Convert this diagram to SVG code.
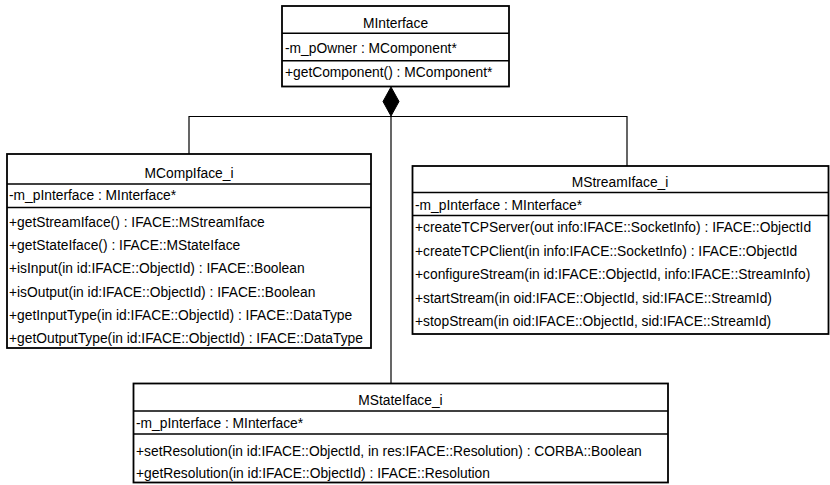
<svg xmlns="http://www.w3.org/2000/svg" width="830" height="485" viewBox="0 0 830 485">
  <style>
    .box { fill: #ffffff; stroke: #000000; stroke-width: 1.8; }
    .sep { stroke: #000000; stroke-width: 1.6; }
    .edge { fill: none; stroke: #000000; stroke-width: 1.2; }
    text { font-family: "Liberation Sans", Arial, sans-serif; font-size: 13.8px; fill: #000000; }
    .name { text-anchor: middle; }
  </style>
  <rect width="830" height="485" fill="#ffffff"/>

  <!-- composition: MInterface owns the three implementation classes -->
  <g id="connectors">
    <polyline class="edge" points="189,154 189,116.5 627,116.5 627,166"/>
    <line class="edge" x1="391" y1="116" x2="391" y2="383"/>
    <polygon points="391,87 399,101.5 391,116 383,101.5" fill="#000000" stroke="#000000" stroke-width="1"/>
  </g>

  <g id="MInterface">
    <rect class="box" x="282" y="6" width="227" height="80.5"/>
    <line class="sep" x1="282" y1="33.3" x2="509" y2="33.3"/>
    <line class="sep" x1="282" y1="60.7" x2="509" y2="60.7"/>
    <text class="name" x="395.5" y="28">MInterface</text>
    <text x="285" y="53">-m_pOwner : MComponent*</text>
    <text x="285" y="76.5">+getComponent() : MComponent*</text>
  </g>

  <g id="MCompIface_i">
    <rect class="box" x="7" y="154" width="364" height="194"/>
    <line class="sep" x1="7" y1="184" x2="371" y2="184"/>
    <line class="sep" x1="7" y1="207.5" x2="371" y2="207.5"/>
    <text class="name" x="189" y="178">MCompIface_i</text>
    <text x="9" y="200">-m_pInterface : MInterface*</text>
    <text x="9" y="226.5">+getStreamIface() : IFACE::MStreamIface</text>
    <text x="9" y="250">+getStateIface() : IFACE::MStateIface</text>
    <text x="9" y="273">+isInput(in id:IFACE::ObjectId) : IFACE::Boolean</text>
    <text x="9" y="296.5">+isOutput(in id:IFACE::ObjectId) : IFACE::Boolean</text>
    <text x="9" y="320">+getInputType(in id:IFACE::ObjectId) : IFACE::DataType</text>
    <text x="9" y="343">+getOutputType(in id:IFACE::ObjectId) : IFACE::DataType</text>
  </g>

  <g id="MStreamIface_i">
    <rect class="box" x="412.5" y="166" width="416" height="168"/>
    <line class="sep" x1="412.5" y1="192.5" x2="828.5" y2="192.5"/>
    <line class="sep" x1="412.5" y1="215.5" x2="828.5" y2="215.5"/>
    <text class="name" x="620" y="186.5">MStreamIface_i</text>
    <text x="415" y="210">-m_pInterface : MInterface*</text>
    <text x="415" y="232">+createTCPServer(out info:IFACE::SocketInfo) : IFACE::ObjectId</text>
    <text x="415" y="255.5">+createTCPClient(in info:IFACE::SocketInfo) : IFACE::ObjectId</text>
    <text x="415" y="279">+configureStream(in id:IFACE::ObjectId, info:IFACE::StreamInfo)</text>
    <text x="415" y="302.5">+startStream(in oid:IFACE::ObjectId, sid:IFACE::StreamId)</text>
    <text x="415" y="326">+stopStream(in oid:IFACE::ObjectId, sid:IFACE::StreamId)</text>
  </g>

  <g id="MStateIface_i">
    <rect class="box" x="133.5" y="383.5" width="534.5" height="99"/>
    <line class="sep" x1="133.5" y1="411" x2="668" y2="411"/>
    <line class="sep" x1="133.5" y1="434" x2="668" y2="434"/>
    <text class="name" x="400.5" y="405">MStateIface_i</text>
    <text x="136" y="428">-m_pInterface : MInterface*</text>
    <text x="136" y="455.5">+setResolution(in id:IFACE::ObjectId, in res:IFACE::Resolution) : CORBA::Boolean</text>
    <text x="136" y="477.5">+getResolution(in id:IFACE::ObjectId) : IFACE::Resolution</text>
  </g>
</svg>
